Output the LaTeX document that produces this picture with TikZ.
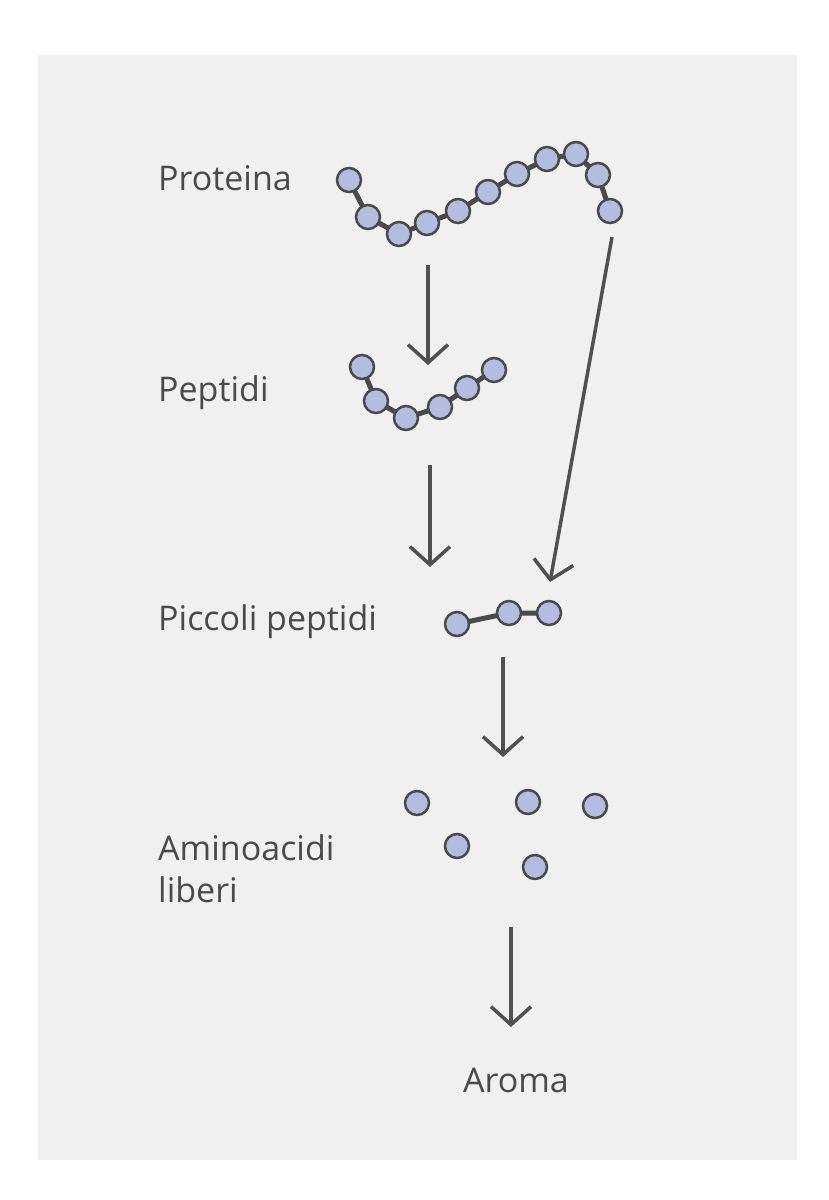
\documentclass[tikz,border=0pt]{standalone}
\usepackage{fontspec}
\setmainfont{Open Sans}
\usetikzlibrary{arrows.meta}
\definecolor{hinter}{HTML}{F0F0F0}
\definecolor{perle}{HTML}{B4BDE0}
\definecolor{perleRand}{HTML}{4A4A4A}
\definecolor{pfeil}{HTML}{505050}
\tikzstyle{amino} = [circle,draw=perleRand,line width=2.5pt,fill=perle,minimum size=24pt,inner sep=0pt]
\tikzstyle{bond} = [line width=5pt,draw=perleRand]
\tikzstyle{edge} = [-{Straight Barb[length=18pt,width=40pt,line width=3.5pt]},line width=3.5pt,draw=pfeil]
\tikzstyle{label} = [anchor=west,font=\fontsize{34}{42}\selectfont,text=perleRand,inner sep=0pt]
\begin{document}
\begin{tikzpicture}[x=1pt,y=-1pt]
\useasboundingbox (0,0) rectangle (828,1200);
\fill[hinter] (38,55) rectangle (797,1160);

\node[label] (tP) at (158,178) {Proteina};
\node[label] (tPe) at (158,393) {Peptidi};
\node[label] (tPi) at (158,622) {Piccoli peptidi};
\node[label,align=left] (tA) at (158,869) {Aminoacidi\\liberi};
\node[label,anchor=center] (tAr) at (516,1080) {Aroma};

% Proteina
\foreach \n/\x/\y in {1/349/180,2/368/217,3/399/234,4/427/223,5/458/211,6/488/192,7/517/174,8/547/159,9/576/154,10/598/175,11/610/211}
  \coordinate (p\n) at (\x,\y);
\draw[bond] (p1) -- (p2) -- (p3) -- (p4) -- (p5) -- (p6) -- (p7) -- (p8) -- (p9) -- (p10) -- (p11);
\foreach \n in {1,...,11} \node[amino] at (p\n) {};

% Peptidi
\foreach \n/\x/\y in {1/362/367,2/376/401,3/406/418,4/440/407,5/467/388,6/494/370}
  \coordinate (q\n) at (\x,\y);
\draw[bond] (q1) -- (q2) -- (q3) -- (q4) -- (q5) -- (q6);
\foreach \n in {1,...,6} \node[amino] at (q\n) {};

% Piccoli peptidi
\coordinate (r1) at (457,624);
\coordinate (r2) at (509,613);
\coordinate (r3) at (549,613);
\draw[bond] (r1) -- (r2) -- (r3);
\foreach \n in {1,2,3} \node[amino] at (r\n) {};

% Aminoacidi liberi
\node[amino] (a1) at (417,803) {};
\node[amino] (a2) at (528,802) {};
\node[amino] (a3) at (595,806) {};
\node[amino] (a4) at (457,846) {};
\node[amino] (a5) at (535,867) {};

% Pfeile
\coordinate (e1s) at (428,265); \coordinate (e1e) at (428,365);
\coordinate (e2s) at (430,465); \coordinate (e2e) at (430,567);
\coordinate (e3s) at (612,237); \coordinate (e3e) at (550,582);
\coordinate (e4s) at (503,657); \coordinate (e4e) at (503,757);
\coordinate (e5s) at (511,927); \coordinate (e5e) at (511,1027);
\draw[edge] (e1s) -- (e1e);
\draw[edge] (e2s) -- (e2e);
\draw[edge] (e3s) -- (e3e);
\draw[edge] (e4s) -- (e4e);
\draw[edge] (e5s) -- (e5e);
\end{tikzpicture}
\end{document}
